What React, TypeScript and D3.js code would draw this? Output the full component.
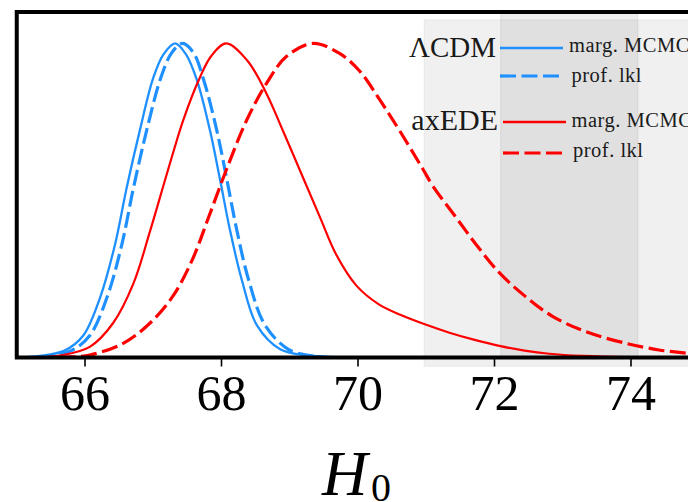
import React from 'react';
import * as d3 from 'd3';

const W = 688;
const H = 502;

const xTicks = [66, 68, 70, 72, 74];

// Normalised H0 posteriors / profile likelihoods: [H0, P/Pmax]
const lcdmMcmc: [number, number][] = [
  [65.0, 0.0], [65.34, 0.005], [65.7, 0.022], [65.975, 0.07], [66.22, 0.19], [66.44, 0.36],
  [66.61, 0.54], [66.8, 0.72], [67.0, 0.89], [67.15, 0.965], [67.32, 1.0],
  [67.48, 0.965], [67.64, 0.883], [67.83, 0.724], [67.98, 0.565], [68.12, 0.41],
  [68.3, 0.245], [68.52, 0.102], [68.86, 0.026], [69.2, 0.008], [69.6, 0.002], [70.0, 0.0],
];

const lcdmProf: [number, number][] = [
  [65.0, 0.0], [65.4, 0.003], [65.8, 0.022], [66.07, 0.07], [66.32, 0.19], [66.54, 0.36],
  [66.71, 0.54], [66.9, 0.72], [67.11, 0.89], [67.27, 0.97], [67.43, 1.0],
  [67.59, 0.97], [67.74, 0.883], [67.93, 0.724], [68.08, 0.565], [68.22, 0.41],
  [68.4, 0.245], [68.64, 0.102], [68.98, 0.026], [69.3, 0.006], [69.6, 0.0],
];

const edeMcmc: [number, number][] = [
  [65.0, 0.0], [65.4, 0.001], [65.63, 0.006], [66.07, 0.034], [66.41, 0.109], [66.71, 0.236],
  [66.95, 0.4], [67.2, 0.585], [67.44, 0.756], [67.68, 0.89], [67.85, 0.96],
  [68.07, 1.0], [68.38, 0.945], [68.66, 0.84], [68.9, 0.722], [69.2, 0.57],
  [69.45, 0.443], [69.68, 0.328], [69.98, 0.228], [70.3, 0.17], [70.62, 0.136],
  [71.0, 0.104], [71.34, 0.079], [71.71, 0.056], [72.07, 0.037], [72.44, 0.022],
  [72.8, 0.012], [73.3, 0.005], [74.0, 0.001], [75.0, 0.0],
];

const edeProf: [number, number][] = [
  [65.0, 0.0], [65.7, 0.001], [66.07, 0.008], [66.56, 0.045], [66.95, 0.109], [67.29, 0.196],
  [67.58, 0.315], [67.8, 0.44], [68.07, 0.597], [68.37, 0.756], [68.66, 0.873],
  [68.95, 0.958], [69.34, 1.0], [69.73, 0.968], [70.02, 0.913], [70.32, 0.82],
  [70.61, 0.722], [70.95, 0.6], [71.1, 0.545], [71.44, 0.445], [71.73, 0.36],
  [72.07, 0.27], [72.46, 0.193], [72.85, 0.131], [73.34, 0.082], [73.93, 0.045],
  [74.41, 0.024], [74.8, 0.014], [75.0, 0.01],
];

// SH0ES 1σ and 2σ bands
const band1: [number, number] = [72.09, 74.1];
const band2: [number, number] = [70.97, 75.15];

const BLUE = '#1e90ff';
const RED = '#ff0000';
const DASH = '16,5.5';
const FONT = "'Liberation Serif', 'Times New Roman', serif";

export default function App() {
  const x = d3.scaleLinear().domain([65, 75]).range([16.75, 699.25]);
  const y = d3.scaleLinear().domain([0, 1.1]).range([357.5, 12]);

  const line = d3
    .line<[number, number]>()
    .x((d) => x(d[0]))
    .y((d) => y(d[1]))
    .curve(d3.curveCatmullRom.alpha(0.5));

  const left = x(65);
  const right = x(75);
  const top = y(1.1);
  const bottom = y(0);

  return (
    <svg
      width={W}
      height={H}
      viewBox={`0 0 ${W} ${H}`}
      style={{ position: 'absolute', left: 0, top: 0, background: '#fff' }}
    >
      <defs>
        <clipPath id="plot-area">
          <rect x={left} y={top} width={right - left} height={bottom - top} />
        </clipPath>
      </defs>

      {/* bands */}
      <rect
        x={x(band2[0])}
        y={y(1.075)}
        width={x(band2[1]) - x(band2[0])}
        height={y(-0.028) - y(1.075)}
        fill="#808080"
        fillOpacity={0.12}
        stroke="#808080"
        strokeOpacity={0.1}
        strokeWidth={1.2}
      />
      <g clipPath="url(#plot-area)">
        <rect
          x={x(band1[0])}
          y={top}
          width={x(band1[1]) - x(band1[0])}
          height={bottom - top}
          fill="#808080"
          fillOpacity={0.14}
          stroke="#808080"
          strokeOpacity={0.12}
          strokeWidth={1.2}
        />
      </g>

      {/* curves */}
      <g clipPath="url(#plot-area)" fill="none">
        <path d={line(lcdmMcmc) ?? ''} stroke={BLUE} strokeWidth={2.3} />
        <path d={line(lcdmProf) ?? ''} stroke={BLUE} strokeWidth={3.2} strokeDasharray={DASH} />
        <path d={line(edeMcmc) ?? ''} stroke={RED} strokeWidth={2.2} />
        <path d={line(edeProf) ?? ''} stroke={RED} strokeWidth={3.2} strokeDasharray={DASH} />
      </g>

      {/* frame */}
      <rect
        x={left}
        y={top}
        width={right - left}
        height={bottom - top}
        fill="none"
        stroke="#000"
        strokeWidth={4}
      />

      {/* x axis ticks */}
      {xTicks.map((t) => (
        <g key={t}>
          <line x1={x(t)} x2={x(t)} y1={bottom} y2={bottom + 9} stroke="#000" strokeWidth={1.6} />
          <text
            x={x(t)}
            y={410}
            textAnchor="middle"
            fontFamily={FONT}
            fontSize={50}
            fill="#000"
          >
            {t}
          </text>
        </g>
      ))}

      {/* x axis label */}
      <text x={322} y={495} fontFamily={FONT} fontSize={63} fontStyle="italic" fill="#000">
        H
      </text>
      <text x={371} y={501} fontFamily={FONT} fontSize={40} fill="#000">
        0
      </text>

      {/* legend */}
      <g fontFamily={FONT} fill="#1a1a1a">
        <text x={496} y={57} textAnchor="end" fontSize={29}>ΛCDM</text>
        <line x1={500} x2={563} y1={48} y2={48} stroke={BLUE} strokeWidth={2.7} />
        <text x={569} y={52} fontSize={20.5} letterSpacing={0.5}>marg. MCMC</text>
        <line x1={500} x2={563} y1={76} y2={76} stroke={BLUE} strokeWidth={3.2} strokeDasharray={DASH} />
        <text x={571.5} y={81.5} fontSize={20.5} letterSpacing={0.5}>prof. lkl</text>

        <text x={498} y={130} textAnchor="end" fontSize={30}>axEDE</text>
        <line x1={503} x2={566} y1={122} y2={122} stroke={RED} strokeWidth={2.7} />
        <text x={571.5} y={126.5} fontSize={20.5} letterSpacing={0.5}>marg. MCMC</text>
        <line x1={503} x2={566} y1={153} y2={153} stroke={RED} strokeWidth={3.2} strokeDasharray={DASH} />
        <text x={573} y={156.5} fontSize={20.5} letterSpacing={0.5}>prof. lkl</text>
      </g>
    </svg>
  );
}
